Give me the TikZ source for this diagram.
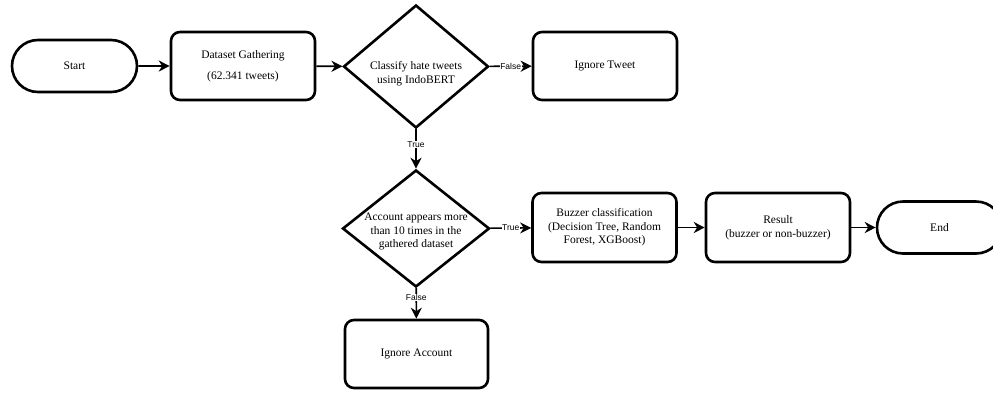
\documentclass[tikz,border=0pt]{standalone}
\usepackage{fontspec}
\setmainfont{Liberation Serif}
\newfontfamily\lblfont{Liberation Sans}
\usetikzlibrary{shapes.geometric,shapes.misc,arrows.meta}
\begin{document}
\begin{tikzpicture}[x=1pt,y=-1pt,
  every node/.style={font=\fontsize{11.5}{13.5}\selectfont},
  term/.style={draw,line width=2.6pt,rounded rectangle,minimum width=125pt,minimum height=52pt,inner sep=0pt},
  proc/.style={draw,line width=2.6pt,rounded corners=9pt,rectangle,minimum width=144pt,minimum height=68pt,inner sep=0pt,align=center},
  decide/.style={draw,line width=2.6pt,diamond,inner sep=0pt},
  conn/.style={line width=1.6pt,-{Stealth[length=11pt,width=11pt,inset=3.5pt]}},
  lbl/.style={fill=white,inner sep=0.6pt,font=\lblfont\fontsize{8.5}{9}\selectfont}
]
\useasboundingbox (0,0) rectangle (993,392);
\clip (0,0) rectangle (993,392);

\node[term] (start) at (74.5,66) {Start};
\node[proc] (gather) at (243,66) {Dataset Gathering\\[7pt](62.341 tweets)};
\node[decide,minimum width=145pt,minimum height=123pt,
  label={[align=center,yshift=-7pt]center:Classify hate tweets\\using IndoBERT}] (cls) at (416,66.5) {};
\node[proc] (itweet) at (605,66) {Ignore Tweet};
\node[decide,minimum width=147pt,minimum height=117pt,
  label={[align=center,yshift=-3pt]center:Account appears more\\than 10 times in the\\gathered dataset}] (acct) at (416,228.5) {};
\node[proc,minimum height=69pt] (buzz) at (604.5,227.5) {Buzzer classification\\(Decision Tree, Random\\Forest, XGBoost)};
\node[proc,minimum height=69pt] (res) at (778,227.5) {Result\\(buzzer or non-buzzer)};
\node[term] (end) at (939.5,227.5) {End};
\node[proc,minimum width=143pt] (iacc) at (416.5,354) {Ignore Account};

\draw[conn] (start) -- (gather);
\draw[conn] (gather) -- (cls);
\draw[conn] (cls) -- node[lbl] {False} (itweet);
\draw[conn] (cls) -- node[lbl,pos=0.38] {True} (acct);
\draw[conn] (acct) -- node[lbl] {True} (buzz);
\draw[conn] (acct) -- node[lbl,pos=0.3] {False} (iacc);
\draw[conn] (buzz) -- (res);
\draw[conn] (res) -- (end);
\end{tikzpicture}
\end{document}
